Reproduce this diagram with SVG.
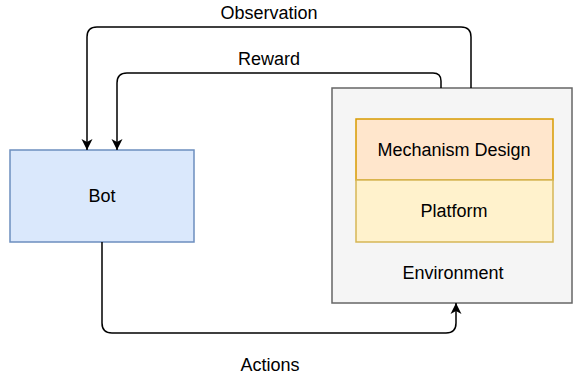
<svg xmlns="http://www.w3.org/2000/svg" width="574" height="376" viewBox="0 0 574 376">
<defs>
<style>
text{font-family:"Liberation Sans",Arial,sans-serif;font-size:18px;fill:#000;text-anchor:middle}
.edge{fill:none;stroke:#000;stroke-width:1.5}
</style>
<marker id="arr" markerUnits="userSpaceOnUse" markerWidth="12" markerHeight="12" viewBox="0 0 12 12" refX="11" refY="6" orient="auto">
<path d="M0,0.5 L11,6 L0,11.5 L3,6 Z" fill="#000"/>
</marker>
</defs>
<rect width="574" height="376" fill="#fff"/>
<g id="bot">
<rect x="10" y="150" width="184" height="92" fill="#dae8fc" stroke="#6c8ebf" stroke-width="1.5"/>
<text x="102" y="202">Bot</text>
</g>
<g id="environment">
<rect x="332" y="88" width="240" height="215" fill="#f5f5f5" stroke="#666666" stroke-width="1.5"/>
<text x="453" y="279">Environment</text>
</g>
<g id="mechanism">
<rect x="356" y="119" width="197" height="61" fill="#ffe6cc" stroke="#d79b00" stroke-width="1.5"/>
<text x="454" y="156">Mechanism Design</text>
</g>
<g id="platform">
<rect x="356" y="180" width="197" height="62" fill="#fff2cc" stroke="#d6b656" stroke-width="1.5"/>
<text x="454" y="217">Platform</text>
</g>
<g id="connectors">
<path class="edge" d="M471,88 V37 Q471,27 461,27 H97 Q87,27 87,37 V150" marker-end="url(#arr)"/>
<text x="269" y="19">Observation</text>
<path class="edge" d="M441,88 V81 Q441,73 433,73 H127 Q117,73 117,83 V150" marker-end="url(#arr)"/>
<text x="269" y="65">Reward</text>
<path class="edge" d="M102,242 V323 Q102,333 112,333 H446 Q456,333 456,323 V303" marker-end="url(#arr)"/>
<text x="270" y="371">Actions</text>
</g>
</svg>
